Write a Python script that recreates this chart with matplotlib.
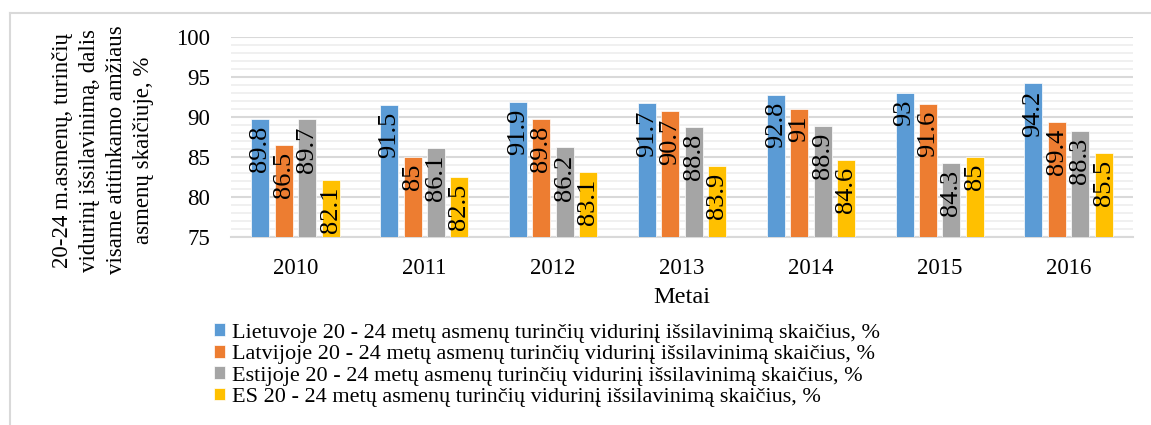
import numpy as np
import matplotlib
matplotlib.use("Agg")
from matplotlib import pyplot as plt
from matplotlib.lines import Line2D

plt.rcParams["font.family"] = ["Liberation Serif", "DejaVu Serif"]

metai = ["2010", "2011", "2012", "2013", "2014", "2015", "2016"]
lietuva = [89.8, 91.5, 91.9, 91.7, 92.8, 93, 94.2]
latvija = [86.5, 85, 89.8, 90.7, 91, 91.6, 89.4]
estija = [89.7, 86.1, 86.2, 88.8, 88.9, 84.3, 88.3]
es = [82.1, 82.5, 83.1, 83.9, 84.6, 85, 85.5]

serijos = [
    ("Lietuvoje 20 - 24 metų asmenų turinčių vidurinį išsilavinimą skaičius, %", lietuva, "#5B9BD5"),
    ("Latvijoje 20 - 24 metų asmenų turinčių vidurinį išsilavinimą skaičius, %", latvija, "#ED7D31"),
    ("Estijoje 20 - 24 metų asmenų turinčių vidurinį išsilavinimą skaičius, %", estija, "#A5A5A5"),
    ("ES 20 - 24 metų asmenų turinčių vidurinį išsilavinimą skaičius, %", es, "#FFC000"),
]

fig = plt.figure(figsize=(11.51, 4.25), dpi=100)
ax = fig.add_axes([0.2007, 0.4424, 0.7837, 0.4706])

x = np.arange(len(metai))
w = 0.14
step = 0.182
handles = []
for i, (name, vals, col) in enumerate(serijos):
    pos = x + (i - 1.5) * step
    bars = ax.bar(pos, [v - 75 for v in vals], bottom=75, width=w, color=col,
                  edgecolor="white", linewidth=0.5, zorder=3, label=name)
    for p, v in zip(pos, vals):
        ax.annotate(f"{v:g}", (p, v), xytext=(0, -5), textcoords="offset points",
                    rotation=90, ha="center", va="top", fontsize=19, zorder=4)
    handles.append(bars)

ax.set_ylim(75, 100)
ax.set_xlim(-0.5, len(metai) - 0.5)
ax.set_yticks(range(75, 101, 5))
ax.set_yticks(range(75, 101), minor=True)
ax.set_xticks(x)
ax.set_xticklabels(metai)
ax.tick_params(axis="both", which="both", length=0, labelsize=16.5)
ax.tick_params(axis="y", pad=15)
ax.tick_params(axis="x", pad=15)
ax.grid(axis="y", which="major", color="#d9d9d9", linewidth=1.5, zorder=0)
ax.grid(axis="y", which="minor", color="#eeeeee", linewidth=1.2, zorder=0)
for s in ["top", "right", "left"]:
    ax.spines[s].set_visible(False)
ax.spines["bottom"].set_color("#d9d9d9")
ax.spines["bottom"].set_linewidth(1.5)

ax.set_xlabel("Metai", fontsize=17.5, labelpad=6)
fig.text(0.0895, 0.647,
         "20-24 m.asmenų, turinčių\nvidurinį išsilavinimą, dalis\nvisame atitinkamo amžiaus\nasmenų skaičiuje, %",
         rotation=90, ha="center", va="center", fontsize=16.5, linespacing=1.38,
         multialignment="center")

leg = fig.legend(handles=handles, loc="upper left", bbox_to_anchor=(0.178, 0.26),
                 frameon=False, fontsize=16, handlelength=0.5, handleheight=0.5,
                 handletextpad=0.3, labelspacing=0.1, borderaxespad=0)

# chart frame
fig.add_artist(Line2D([0.009, 1.0], [0.969, 0.969], color="#d9d9d9", linewidth=1.5))
fig.add_artist(Line2D([0.009, 0.009], [0.0, 0.969], color="#d9d9d9", linewidth=1.5))

fig.savefig("out.png", dpi=100)
